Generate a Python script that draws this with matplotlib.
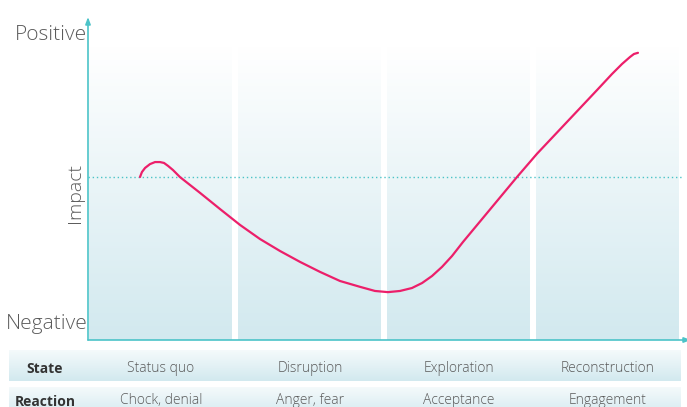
import numpy as np
import matplotlib.pyplot as plt
from matplotlib.colors import LinearSegmentedColormap

plt.rcParams['font.family'] = ['Open Sans', 'DejaVu Sans']

# Stages along x (each stage is one unit wide)
states = ['Status quo', 'Disruption', 'Exploration', 'Reconstruction']
reactions = ['Chock, denial', 'Anger, fear', 'Acceptance', 'Engagement']
row_labels = ['State', 'Reaction']

# Impact curve (x in stage units, y on a 0 (negative) .. 10 (positive) scale)
curve_x = [0.349, 0.362, 0.383, 0.416, 0.450, 0.483, 0.510, 0.537, 0.570, 0.617,
           0.752, 0.886, 1.020, 1.154, 1.289, 1.423, 1.557, 1.691, 1.826, 1.926,
           2.013, 2.094, 2.174, 2.242, 2.309, 2.376, 2.443, 2.517, 2.879, 3.013,
           3.416, 3.517, 3.584, 3.638, 3.664, 3.691]
curve_y = [5.55, 5.72, 5.86, 5.99, 6.06, 6.06, 6.03, 5.93, 5.79, 5.55,
           5.01, 4.46, 3.92, 3.44, 3.03, 2.66, 2.32, 2.01, 1.81, 1.67,
           1.63, 1.67, 1.77, 1.94, 2.18, 2.49, 2.86, 3.34, 5.55, 6.34,
           8.51, 9.06, 9.40, 9.64, 9.74, 9.78]
baseline = 5.55

W, H = 687, 407
TEAL = '#4cc3c8'
PINK = '#ec1f6a'
GREY = '#5a5a5a'
grad = LinearSegmentedColormap.from_list('g', ['#ffffff', '#d2e9ef'])
ramp = np.linspace(1, 0, 256).reshape(-1, 1)  # row 0 = bottom (blue)

fig = plt.figure(figsize=(W / 100, H / 100), dpi=100)

# main chart: x 88..684 px, y 17..340 px
ax = fig.add_axes([88 / W, (H - 340) / H, 596 / W, 323 / H])
for i in range(len(states)):
    ax.imshow(ramp, cmap=grad, aspect='auto', origin='lower', vmin=0, vmax=1,
              extent=(i + 0.01, i + 0.965, 0, 10), zorder=1)
ax.set_xlim(0, 4)
ax.set_ylim(0, 11)
ax.axis('off')

ax.axhline(baseline, color=TEAL, lw=1, ls=(0, (1, 2)), zorder=2)
ax.plot(curve_x, curve_y, color=PINK, lw=1.6, solid_joinstyle='round',
        solid_capstyle='round', zorder=3)

# axes with arrows
ax.annotate('', xy=(0, 1), xytext=(0, 0), xycoords='axes fraction',
            arrowprops=dict(arrowstyle='-|>,head_length=0.4,head_width=0.15',
                            color=TEAL, lw=1.2, shrinkA=0, shrinkB=0))
ax.annotate('', xy=(603 / 596, 0), xytext=(0, 0), xycoords='axes fraction',
            arrowprops=dict(arrowstyle='-|>,head_length=0.4,head_width=0.15',
                            color=TEAL, lw=1.2, shrinkA=0, shrinkB=0))

ax.text(-5 / 596, 10.37, 'Positive', ha='right', va='center', fontsize=15,
        color=GREY, fontweight='light')
ax.text(-1 / 596, 0.54, 'Negative', ha='right', va='center', fontsize=15,
        color=GREY, fontweight='light')
ax.text(-13 / 596, 5.0, 'Impact', ha='center', va='center', rotation=90,
        fontsize=14, color=GREY, fontweight='light', transform=ax.get_yaxis_transform())

# table below
tab = fig.add_axes([0, 0, 1, (H - 345) / H])
x0, x1 = (9 - 88) / 149, (681 - 88) / 149
for top, bottom in [(5, 36), (43, 72)]:
    # white at the top of each row, light blue at the bottom
    tab.imshow(ramp, cmap=grad, aspect='auto', origin='lower', vmin=-0.3, vmax=1,
               extent=(x0, x1, bottom, top))
tab.set_xlim(-88 / 149, (W - 88) / 149)
tab.set_ylim(62, 0)
tab.axis('off')

lab_x = (45 - 88) / 149
for row, (label, items) in enumerate(zip(row_labels, [states, reactions])):
    y = 24 if row == 0 else 57
    tab.text(lab_x, y, label, ha='center', va='center', fontsize=10,
             fontweight='bold', color='#333333')
    for i, t in enumerate(items):
        tab.text(i + 0.49, y - 1, t, ha='center', va='center', fontsize=10,
                 color=GREY, fontweight='light')

fig.savefig('out.png', dpi=100)
